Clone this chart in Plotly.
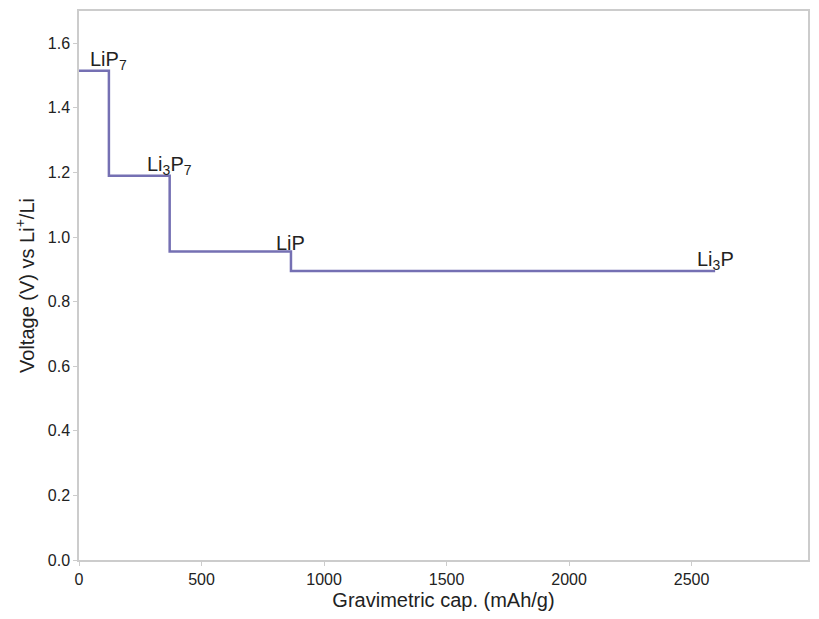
import plotly.graph_objects as go

# step edges (mAh/g) and plateau voltages (V)
cap_edges = [0, 122, 370, 865, 2596]
voltages = [1.515, 1.19, 0.955, 0.895]
phases = ['LiP<sub>7</sub>', 'Li<sub>3</sub>P<sub>7</sub>', 'LiP', 'Li<sub>3</sub>P']

xs, ys = [], []
for i, v in enumerate(voltages):
    xs += [cap_edges[i], cap_edges[i + 1]]
    ys += [v, v]

fig = go.Figure()
fig.add_trace(go.Scatter(x=xs, y=ys, mode='lines',
                         line=dict(color='#7570b3', width=2.5),
                         showlegend=False))

for i, name in enumerate(phases):
    fig.add_annotation(x=cap_edges[i + 1], y=voltages[i], text=name,
                       showarrow=False, yanchor='bottom', yshift=-4,
                       font=dict(size=20, color='#222222'))

axis_style = dict(showgrid=False, zeroline=False, showline=True, mirror=True,
                  linecolor='#cccccc', linewidth=1.5, ticks='outside',
                  ticklen=4, tickcolor='#cccccc',
                  tickfont=dict(size=16, color='#222222'))

fig.update_xaxes(range=[0, 2975], tickvals=[0, 500, 1000, 1500, 2000, 2500],
                 title=dict(text='Gravimetric cap. (mAh/g)',
                            font=dict(size=20, color='#222222'), standoff=6),
                 **axis_style)
fig.update_yaxes(range=[0, 1.7], dtick=0.2, tickformat='.1f',
                 title=dict(text='Voltage (V) vs Li<sup>+</sup>/Li',
                            font=dict(size=20, color='#222222'), standoff=8),
                 **axis_style)

fig.update_layout(width=803, height=603, plot_bgcolor='white',
                  paper_bgcolor='white',
                  font=dict(family='Liberation Sans, Arial, sans-serif'),
                  margin=dict(l=71, r=1, t=2, b=51))

fig.write_html('out.html')
